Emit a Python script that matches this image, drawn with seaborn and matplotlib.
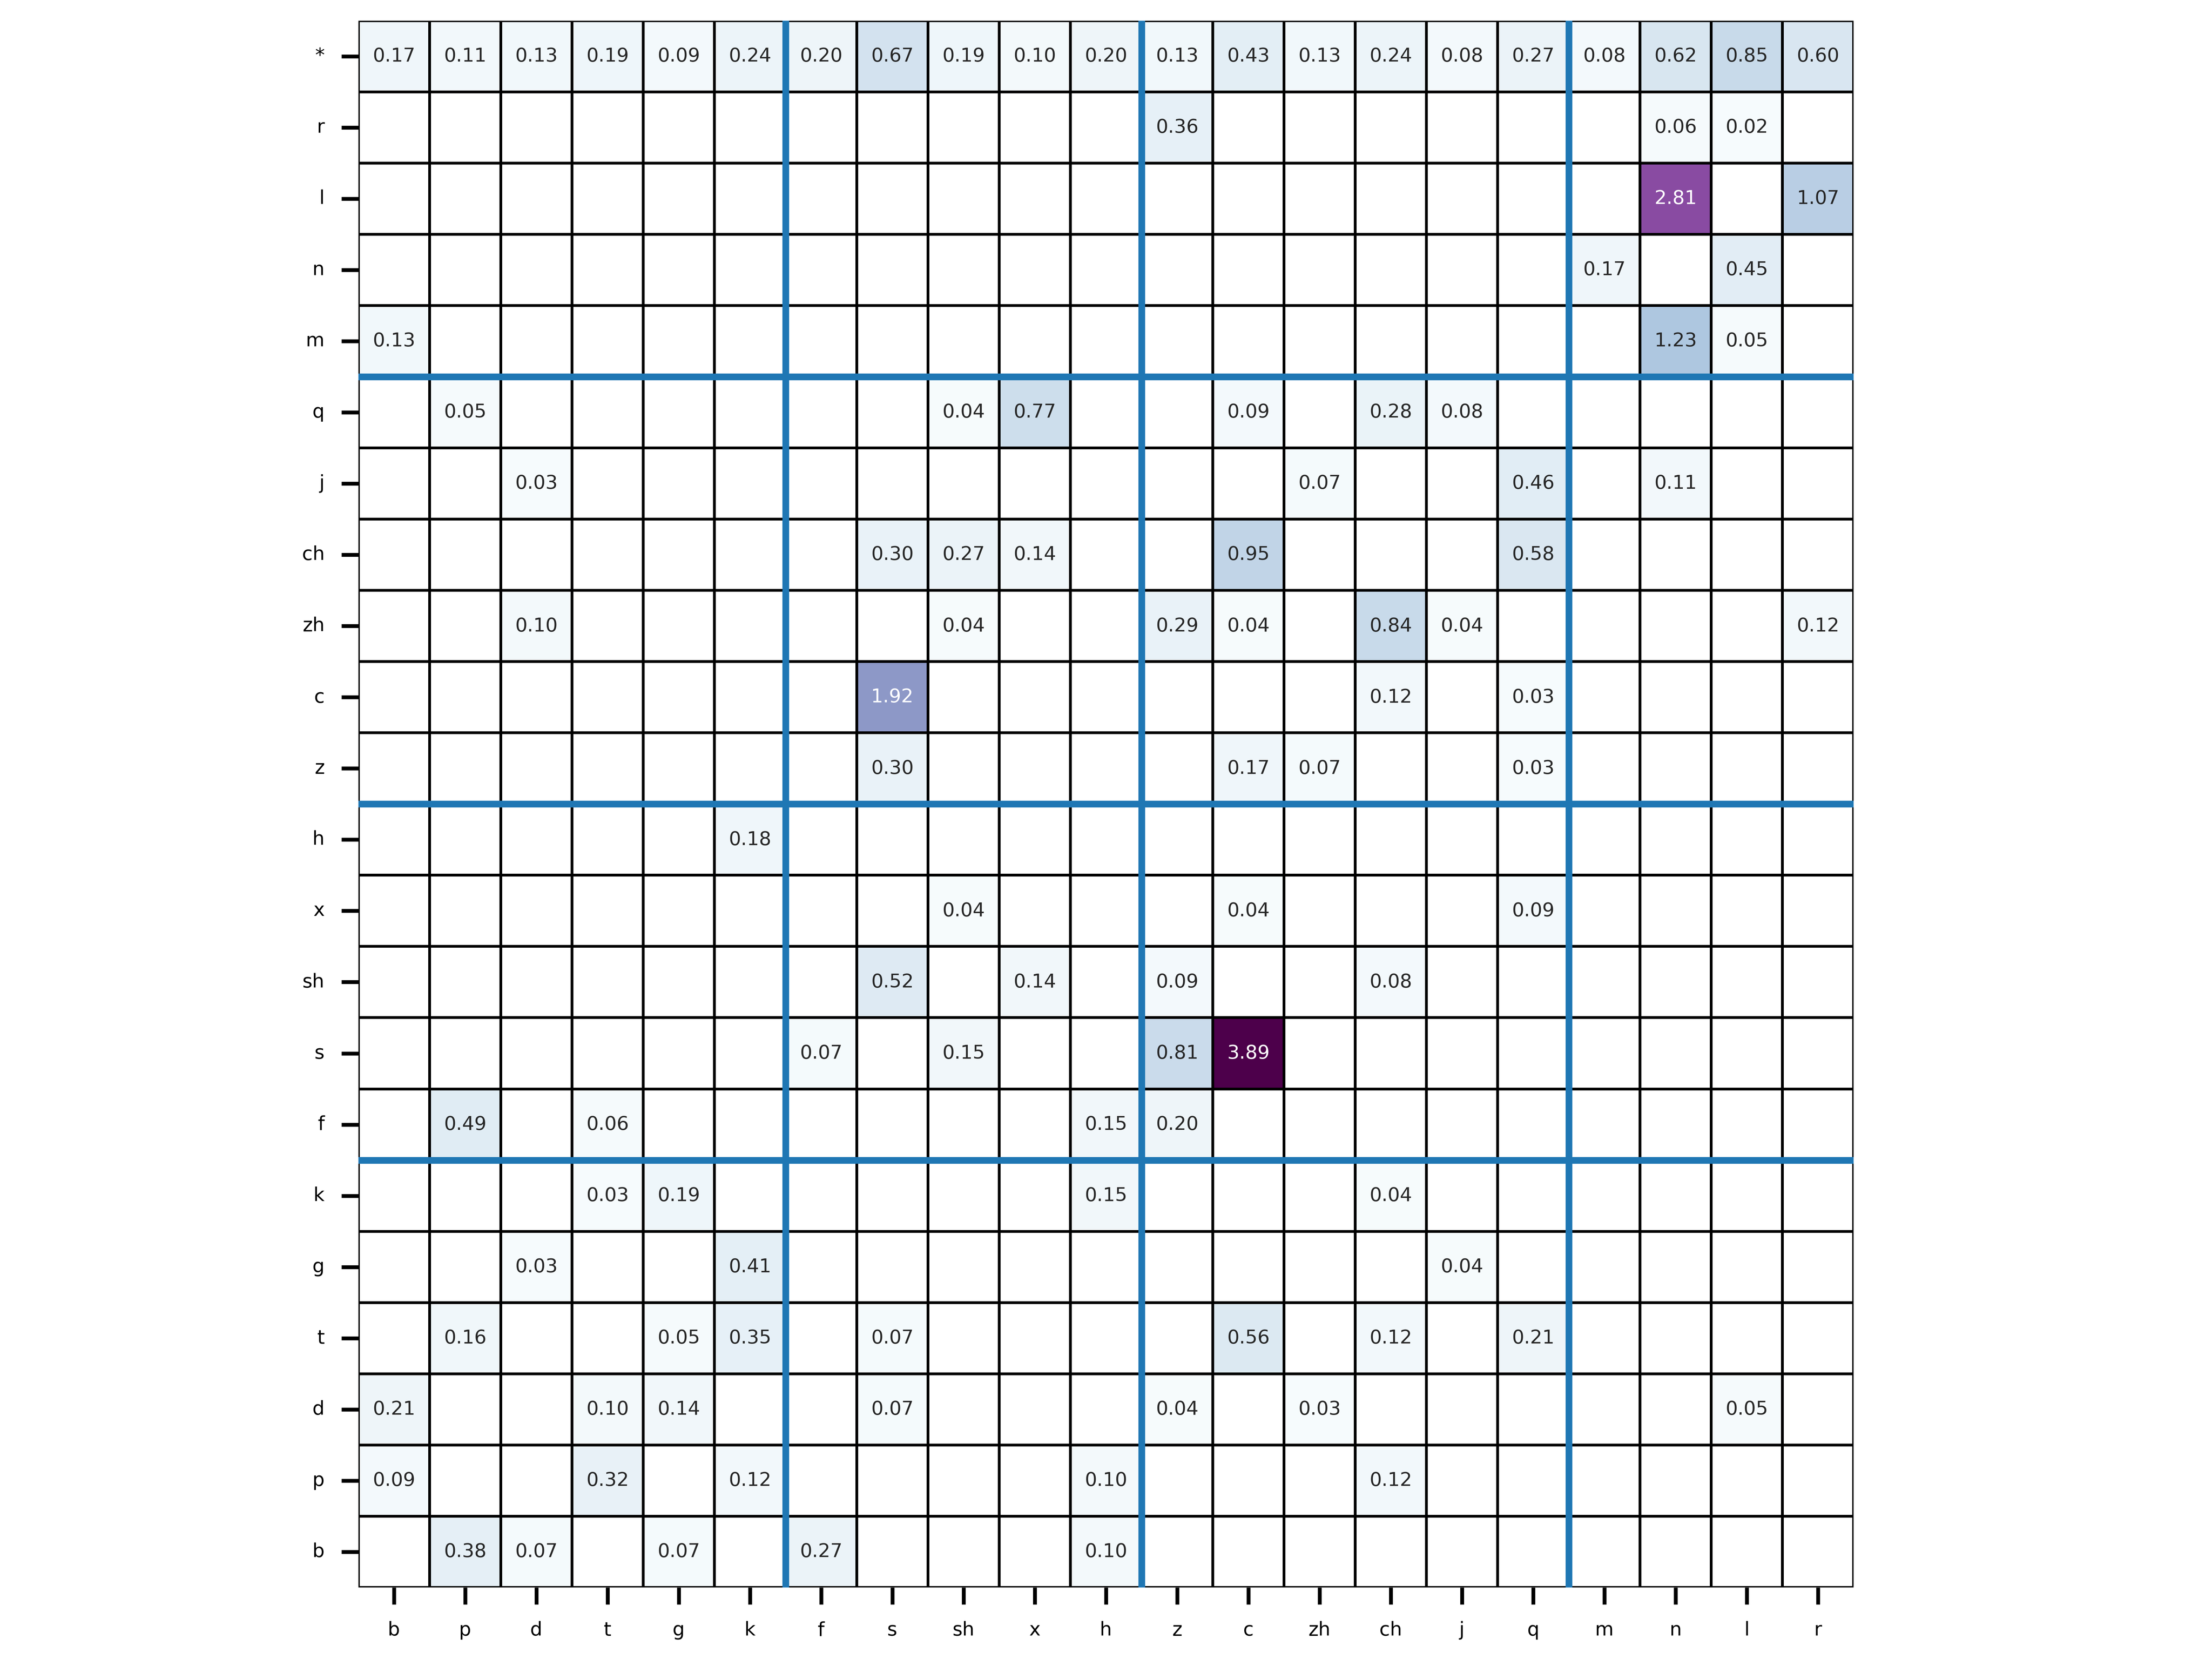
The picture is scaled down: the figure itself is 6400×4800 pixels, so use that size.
import numpy as np
import pandas as pd
import matplotlib
matplotlib.use('Agg')
import matplotlib.pyplot as plt
import seaborn as sns

# column / row labels of the confusion-style matrix
cols = ['b', 'p', 'd', 't', 'g', 'k', 'f', 's', 'sh', 'x', 'h',
        'z', 'c', 'zh', 'ch', 'j', 'q', 'm', 'n', 'l', 'r']
rows = ['*', 'r', 'l', 'n', 'm', 'q', 'j', 'ch', 'zh', 'c', 'z',
        'h', 'x', 'sh', 's', 'f', 'k', 'g', 't', 'd', 'p', 'b']

# non-empty cells for each row
row_star = [0.17, 0.11, 0.13, 0.19, 0.09, 0.24, 0.20, 0.67, 0.19, 0.10, 0.20,
            0.13, 0.43, 0.13, 0.24, 0.08, 0.27, 0.08, 0.62, 0.85, 0.60]
row_r = {'z': 0.36, 'n': 0.06, 'l': 0.02}
row_l = {'n': 2.81, 'r': 1.07}
row_n = {'m': 0.17, 'l': 0.45}
row_m = {'b': 0.13, 'n': 1.23, 'l': 0.05}
row_q = {'p': 0.05, 'sh': 0.04, 'x': 0.77, 'c': 0.09, 'ch': 0.28, 'j': 0.08}
row_j = {'d': 0.03, 'zh': 0.07, 'q': 0.46, 'n': 0.11}
row_ch = {'s': 0.30, 'sh': 0.27, 'x': 0.14, 'c': 0.95, 'q': 0.58}
row_zh = {'d': 0.10, 'sh': 0.04, 'z': 0.29, 'c': 0.04, 'ch': 0.84, 'j': 0.04, 'r': 0.12}
row_c = {'s': 1.92, 'ch': 0.12, 'q': 0.03}
row_z = {'s': 0.30, 'c': 0.17, 'zh': 0.07, 'q': 0.03}
row_h = {'k': 0.18}
row_x = {'sh': 0.04, 'c': 0.04, 'q': 0.09}
row_sh = {'s': 0.52, 'x': 0.14, 'z': 0.09, 'ch': 0.08}
row_s = {'f': 0.07, 'sh': 0.15, 'z': 0.81, 'c': 3.89}
row_f = {'p': 0.49, 't': 0.06, 'h': 0.15, 'z': 0.20}
row_k = {'t': 0.03, 'g': 0.19, 'h': 0.15, 'ch': 0.04}
row_g = {'d': 0.03, 'k': 0.41, 'j': 0.04}
row_t = {'p': 0.16, 'g': 0.05, 'k': 0.35, 's': 0.07, 'c': 0.56, 'ch': 0.12, 'q': 0.21}
row_d = {'b': 0.21, 't': 0.10, 'g': 0.14, 's': 0.07, 'z': 0.04, 'zh': 0.03, 'l': 0.05}
row_p = {'b': 0.09, 't': 0.32, 'k': 0.12, 'h': 0.10, 'ch': 0.12}
row_b = {'p': 0.38, 'd': 0.07, 'g': 0.07, 'f': 0.27, 'h': 0.10}

# group boundaries (blue lines) after these labels
col_breaks = ['k', 'h', 'q']
row_breaks = ['m', 'z', 'f']

sparse_rows = [row_r, row_l, row_n, row_m, row_q, row_j, row_ch, row_zh, row_c,
               row_z, row_h, row_x, row_sh, row_s, row_f, row_k, row_g, row_t,
               row_d, row_p, row_b]

df = pd.DataFrame(np.nan, index=rows, columns=cols)
df.loc['*'] = row_star
for name, vals in zip(rows[1:], sparse_rows):
    for c, v in vals.items():
        df.loc[name, c] = v

plt.rcParams['font.size'] = 4

fig, ax = plt.subplots(figsize=(6.4, 4.8))
sns.heatmap(df, mask=df.isna(), annot=True, fmt='.2f', cmap='BuPu',
            vmin=0, cbar=False, square=True, linewidths=0.45,
            linecolor='black', ax=ax)

for c in col_breaks:
    ax.axvline(cols.index(c) + 1, color='tab:blue', linewidth=1.4)
for r in row_breaks:
    ax.axhline(rows.index(r) + 1, color='tab:blue', linewidth=1.4)

ax.set_xlabel('')
ax.set_ylabel('')
ax.tick_params(axis='y', rotation=0)

plt.tight_layout()
plt.savefig('out.png', dpi=1000)
